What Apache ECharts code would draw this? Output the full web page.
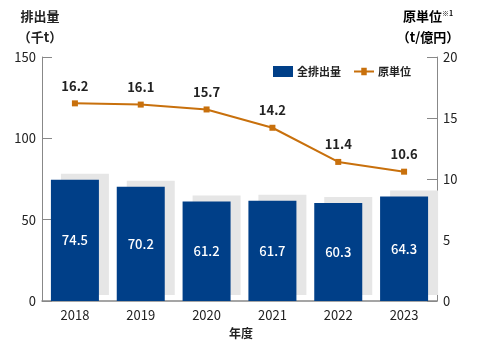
<!DOCTYPE html>
<html>
<head>
<meta charset="utf-8">
<script src="https://cdn.jsdelivr.net/npm/echarts@6/dist/echarts.min.js"></script>
<style>
  html, body { margin: 0; padding: 0; background: #fff; }
  #chart { width: 482px; height: 353px; }
</style>
</head>
<body>
<div id="chart"></div>
<script>
const years = ['2018', '2019', '2020', '2021', '2022', '2023'];
const emissions = [74.5, 70.2, 61.2, 61.7, 60.3, 64.3];
const intensity = [16.2, 16.1, 15.7, 14.2, 11.4, 10.6];
const leftTicks = [0, 50, 100, 150];
const rightTicks = [0, 5, 10, 15, 20];

const font = '"Noto Sans CJK JP", "Noto Sans", sans-serif';
const axisColor = '#888';
const lineColor = '#c8700c';

const myChart = echarts.init(document.getElementById('chart'));

// legend icon for the line: a thin line with a small square in the middle
const lineIcon = 'path://M0,5L8,5L8,2L14,2L14,5L22,5L22,7L14,7L14,10L8,10L8,7L0,7Z';

const option = {
    animation: false,
    textStyle: { fontFamily: font },
    grid: { left: 42, right: 45, top: 57, bottom: 52 },
    legend: {
        top: 61,
        right: 66,
        itemGap: 13,
        itemWidth: 20,
        itemHeight: 11,
        textStyle: { fontFamily: font, fontSize: 11, fontWeight: 'bold', color: '#222', padding: [0, 0, 0, -1] },
        data: [
            { name: '全排出量', icon: 'rect', itemStyle: { shadowColor: 'transparent', borderWidth: 0 } },
            { name: '原単位', icon: lineIcon, itemStyle: { color: lineColor } }
        ]
    },
    graphic: [
        {
            type: 'text', left: 'center', top: 327,
            style: { text: '年度', font: 'bold 12px ' + font, fill: '#222' }
        },
        {
            type: 'text', x: 40, y: 6,
            style: {
                text: '排出量\n（千t）', align: 'center', lineHeight: 21,
                font: 'bold 13px ' + font, fill: '#222'
            }
        },
        {
            type: 'text', x: 428, y: 6,
            style: {
                text: '{a|原単位}{s|※1}\n{a|（t/億円）}', align: 'center',
                rich: {
                    a: { fontFamily: font, fontSize: 13, fontWeight: 'bold', color: '#222', lineHeight: 21 },
                    s: { fontFamily: font, fontSize: 7, fontWeight: 'bold', color: '#222', lineHeight: 21, padding: [0, 0, 6, 0] }
                }
            }
        }
    ],
    xAxis: {
        type: 'category',
        data: years,
        axisLine: { lineStyle: { color: axisColor, width: 1.5 } },
        axisTick: { inside: true, length: 5, lineStyle: { color: axisColor } },
        axisLabel: { fontFamily: font, fontSize: 13, color: '#222', margin: 8 }
    },
    yAxis: [
        {
            type: 'value', min: 0, max: 150, interval: 50,
            axisLine: { show: true, lineStyle: { color: axisColor } },
            axisTick: { show: true, inside: true, length: 10, lineStyle: { color: axisColor } },
            axisLabel: { fontFamily: font, fontSize: 13, color: '#222', margin: 6,
                customValues: leftTicks },
            splitLine: { show: false }
        },
        {
            type: 'value', min: 0, max: 20, interval: 5,
            axisLine: { show: true, lineStyle: { color: axisColor } },
            axisTick: { show: true, inside: true, length: 10, lineStyle: { color: axisColor } },
            axisLabel: { fontFamily: font, fontSize: 13, color: '#222', margin: 6,
                customValues: rightTicks },
            splitLine: { show: false }
        }
    ],
    series: [
        {
            name: '全排出量',
            type: 'bar',
            data: emissions,
            barWidth: 48,
            itemStyle: {
                color: '#003f88',
                borderWidth: 0,
                shadowColor: '#e6e6e6',
                shadowBlur: 0,
                shadowOffsetX: 10,
                shadowOffsetY: -6
            },
            label: {
                show: true,
                position: 'inside',
                color: '#fff',
                fontFamily: font,
                fontSize: 13,
                fontWeight: 500
            },
            z: 1
        },
        {
            name: '原単位',
            type: 'line',
            yAxisIndex: 1,
            data: intensity,
            color: lineColor,
            symbol: 'rect',
            symbolSize: 6,
            lineStyle: { width: 2, color: lineColor },
            itemStyle: { color: lineColor },
            label: {
                show: true,
                position: 'top',
                distance: 8,
                color: '#222',
                fontFamily: font,
                fontSize: 13,
                fontWeight: 'bold'
            },
            z: 3
        }
    ]
};
myChart.setOption(option);
</script>
</body>
</html>
